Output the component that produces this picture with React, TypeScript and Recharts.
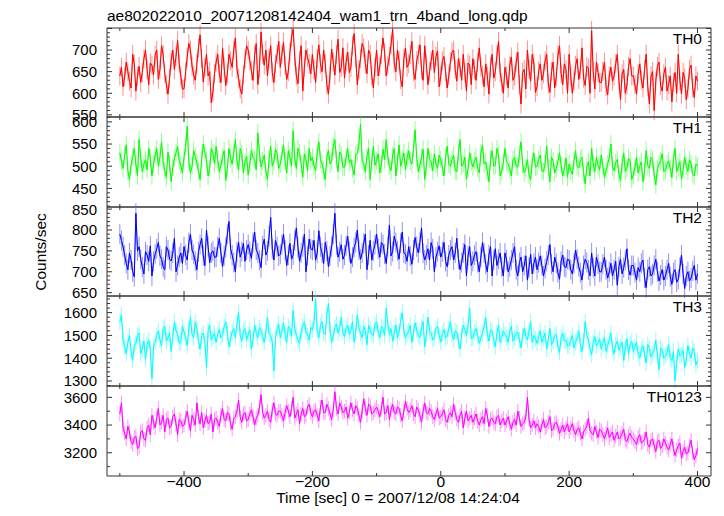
import { ErrorBar, Line, LineChart, XAxis, YAxis } from 'recharts'

// time bins (sec from 2007/12/08 14:24:04), 2.5 s apart
const times = Array.from({ length: 361 }, (_, i) => -500 + i * 2.5)

const th0 = [
  640, 660, 615, 638, 672, 650, 628, 612, 690, 668, 605, 640, 662, 625, 648, 680, 700, 655, 620, 670,
  665, 642, 688, 700, 632, 655, 710, 690, 645, 620, 598, 635, 676, 700, 655, 685, 722, 668, 640, 610,
  610, 650, 684, 715, 700, 662, 642, 630, 668, 705, 735, 680, 626, 660, 690, 640, 650, 578, 602, 645,
  672, 690, 645, 625, 705, 660, 618, 645, 690, 675, 660, 700, 728, 655, 635, 610, 598, 642, 680, 710,
  700, 675, 652, 630, 688, 715, 620, 658, 742, 690, 665, 700, 640, 680, 710, 648, 625, 668, 690, 720,
  660, 690, 718, 665, 632, 650, 695, 730, 748, 685, 640, 622, 676, 710, 605, 660, 700, 682, 668, 645,
  690, 655, 625, 680, 712, 668, 650, 700, 668, 620, 598, 645, 702, 672, 642, 690, 725, 648, 660, 705,
  635, 672, 695, 648, 660, 710, 738, 682, 620, 655, 680, 715, 705, 668, 645, 700, 690, 640, 612, 660,
  700, 640, 662, 690, 728, 695, 640, 665, 685, 712, 748, 670, 650, 700, 676, 632, 615, 680, 705, 660,
  668, 690, 720, 650, 632, 675, 690, 712, 655, 630, 710, 668, 620, 650, 675, 700, 648, 685, 698, 615,
  640, 675, 685, 650, 612, 640, 672, 695, 700, 655, 628, 680, 660, 630, 690, 648, 605, 670, 665, 620,
  680, 655, 630, 672, 705, 660, 642, 615, 668, 640, 598, 662, 690, 635, 650, 688, 720, 648, 625, 600,
  660, 640, 612, 665, 684, 630, 640, 672, 695, 620, 575, 648, 655, 610, 700, 655, 628, 690, 670, 602,
  615, 652, 668, 630, 645, 675, 690, 622, 602, 650, 672, 612, 638, 688, 710, 645, 620, 668, 655, 600,
  690, 640, 600, 628, 664, 680, 632, 655, 705, 635, 618, 662, 658, 600, 745, 650, 610, 672, 648, 625,
  625, 650, 672, 615, 596, 640, 660, 628, 640, 668, 690, 630, 585, 645, 655, 600, 618, 662, 680, 640,
  640, 620, 598, 645, 668, 630, 612, 655, 690, 615, 575, 640, 650, 560, 628, 662, 672, 618, 605, 645,
  660, 605, 620, 640, 580, 625, 648, 600, 690, 630, 598, 648, 635, 585, 610, 655, 665, 612, 590, 640, 628,
]

const th1 = [
  530, 512, 495, 525, 548, 490, 470, 502, 520, 540, 505, 478, 560, 520, 488, 505, 515, 492, 540, 518,
  478, 505, 525, 540, 500, 520, 555, 510, 490, 475, 532, 505, 465, 498, 518, 530, 545, 512, 502, 485,
  520, 545, 590, 510, 485, 500, 535, 522, 508, 490, 470, 515, 550, 530, 515, 478, 495, 540, 530, 505,
  545, 515, 488, 502, 520, 535, 468, 495, 540, 518, 505, 530, 560, 512, 492, 540, 528, 485, 510, 522,
  480, 505, 535, 520, 515, 492, 575, 530, 498, 512, 525, 488, 470, 515, 545, 500, 510, 538, 530, 495,
  505, 525, 548, 510, 485, 535, 520, 500, 580, 518, 495, 540, 530, 505, 475, 528, 515, 490, 540, 512,
  520, 500, 490, 530, 555, 515, 505, 490, 470, 520, 535, 505, 512, 545, 560, 515, 488, 532, 525, 498,
  498, 520, 540, 508, 515, 495, 480, 525, 530, 550, 595, 512, 505, 488, 522, 540, 470, 510, 545, 502,
  512, 528, 485, 505, 538, 515, 560, 520, 500, 490, 525, 540, 478, 510, 548, 500, 515, 530, 492, 518,
  535, 512, 505, 540, 582, 520, 488, 502, 520, 538, 470, 500, 540, 515, 510, 490, 528, 505, 495, 525,
  515, 498, 478, 520, 545, 505, 500, 515, 525, 490, 488, 530, 560, 500, 505, 520, 470, 495, 530, 510,
  498, 512, 520, 495, 485, 530, 548, 505, 510, 488, 465, 515, 535, 500, 502, 540, 525, 478, 490, 508,
  540, 510, 505, 492, 478, 515, 520, 500, 498, 528, 555, 505, 485, 495, 515, 480, 470, 512, 530, 498,
  500, 515, 525, 490, 488, 505, 545, 498, 465, 520, 512, 485, 495, 510, 530, 502, 478, 495, 518, 475,
  505, 490, 482, 512, 535, 500, 496, 515, 520, 485, 460, 498, 510, 478, 540, 505, 488, 520, 502, 492,
  525, 500, 475, 490, 505, 520, 550, 498, 490, 508, 515, 482, 468, 505, 530, 488, 495, 518, 512, 470,
  480, 498, 520, 485, 500, 510, 465, 490, 535, 502, 495, 520, 515, 480, 458, 495, 505, 512, 528, 488,
  490, 505, 512, 495, 475, 515, 540, 488, 498, 510, 470, 492, 520, 500, 488, 515, 505, 482, 478, 505, 500,
]

const th2 = [
  790, 775, 760, 740, 720, 705, 745, 728, 700, 688, 840, 750, 760, 730, 712, 695, 748, 740, 725, 762,
  690, 725, 742, 755, 770, 738, 730, 712, 705, 760, 752, 730, 726, 745, 780, 700, 715, 735, 745, 720,
  760, 740, 728, 770, 790, 752, 742, 725, 705, 748, 765, 780, 738, 715, 800, 760, 722, 745, 750, 735,
  735, 760, 780, 745, 712, 738, 758, 790, 820, 755, 740, 722, 700, 748, 770, 735, 748, 768, 725, 752,
  765, 748, 732, 770, 795, 752, 745, 728, 710, 762, 778, 740, 750, 785, 830, 755, 728, 775, 760, 738,
  742, 765, 790, 752, 715, 740, 768, 730, 740, 775, 805, 758, 725, 745, 760, 790, 700, 738, 778, 755,
  752, 775, 728, 745, 798, 760, 745, 720, 770, 750, 712, 738, 760, 790, 840, 765, 735, 748, 765, 730,
  740, 762, 785, 748, 720, 735, 758, 770, 800, 752, 730, 745, 768, 790, 705, 740, 775, 728, 750, 765,
  790, 755, 735, 770, 765, 742, 720, 760, 812, 738, 748, 785, 770, 750, 730, 768, 795, 745, 742, 725,
  760, 738, 718, 752, 782, 760, 745, 770, 805, 745, 728, 740, 755, 728, 770, 755, 700, 735, 748, 762,
  735, 748, 770, 725, 712, 740, 752, 760, 728, 745, 780, 730, 705, 722, 745, 765, 690, 738, 760, 715,
  725, 740, 748, 722, 700, 735, 770, 745, 718, 700, 740, 760, 690, 728, 755, 715, 730, 745, 712, 690,
  745, 728, 700, 712, 728, 745, 760, 705, 690, 722, 735, 700, 715, 738, 680, 710, 742, 695, 720, 735,
  705, 722, 738, 715, 690, 708, 725, 740, 765, 718, 700, 735, 720, 698, 682, 725, 740, 712, 710, 730,
  728, 705, 695, 720, 752, 730, 712, 698, 680, 715, 730, 722, 705, 690, 745, 710, 690, 735, 718, 700,
  700, 718, 735, 705, 685, 700, 720, 690, 705, 725, 668, 712, 730, 695, 710, 728, 755, 705, 692, 715,
  715, 698, 680, 710, 700, 720, 728, 685, 662, 705, 712, 690, 695, 715, 730, 700, 678, 692, 705, 680,
  690, 705, 720, 688, 670, 698, 705, 675, 682, 710, 740, 695, 660, 690, 700, 678, 685, 702, 715, 680, 695,
]

const th3 = [
  1560, 1590, 1480, 1450, 1420, 1470, 1500, 1430, 1390, 1455, 1465, 1500, 1510, 1420, 1440, 1475, 1395, 1460, 1480, 1440,
  1310, 1450, 1470, 1500, 1520, 1480, 1455, 1530, 1540, 1475, 1490, 1510, 1430, 1495, 1560, 1520, 1505, 1465, 1470, 1540,
  1515, 1490, 1455, 1530, 1580, 1505, 1490, 1560, 1530, 1475, 1440, 1500, 1510, 1470, 1360, 1520, 1545, 1480, 1495, 1510,
  1470, 1505, 1525, 1490, 1500, 1540, 1560, 1510, 1450, 1485, 1515, 1530, 1490, 1555, 1600, 1500, 1475, 1520, 1530, 1480,
  1505, 1525, 1440, 1480, 1545, 1510, 1490, 1535, 1520, 1495, 1470, 1515, 1580, 1505, 1500, 1470, 1345, 1490, 1525, 1550,
  1490, 1520, 1555, 1505, 1470, 1540, 1530, 1495, 1610, 1530, 1500, 1480, 1465, 1515, 1540, 1560, 1515, 1500, 1480, 1535,
  1525, 1560, 1660, 1520, 1490, 1545, 1560, 1510, 1505, 1590, 1640, 1525, 1470, 1500, 1535, 1550, 1510, 1530, 1580, 1515,
  1495, 1530, 1545, 1505, 1520, 1560, 1470, 1515, 1590, 1535, 1510, 1490, 1540, 1520, 1460, 1545, 1525, 1505, 1500, 1550,
  1560, 1515, 1490, 1540, 1530, 1500, 1620, 1550, 1505, 1530, 1475, 1510, 1545, 1490, 1515, 1565, 1600, 1520, 1490, 1505,
  1520, 1545, 1470, 1510, 1555, 1525, 1500, 1490, 1535, 1560, 1450, 1505, 1580, 1520, 1510, 1480, 1490, 1530, 1540, 1500,
  1470, 1510, 1525, 1490, 1495, 1530, 1560, 1505, 1480, 1520, 1515, 1475, 1440, 1500, 1545, 1525, 1500, 1540, 1620, 1485,
  1490, 1515, 1530, 1500, 1465, 1490, 1510, 1540, 1580, 1505, 1475, 1525, 1520, 1480, 1450, 1510, 1545, 1470, 1495, 1520,
  1505, 1490, 1470, 1520, 1540, 1475, 1490, 1510, 1515, 1480, 1445, 1500, 1530, 1495, 1480, 1520, 1560, 1470, 1500, 1485,
  1465, 1495, 1520, 1470, 1490, 1510, 1440, 1485, 1530, 1460, 1475, 1500, 1505, 1450, 1425, 1490, 1510, 1475, 1480, 1455,
  1455, 1480, 1500, 1445, 1470, 1490, 1520, 1460, 1430, 1475, 1560, 1500, 1480, 1440, 1415, 1470, 1495, 1455, 1465, 1485,
  1440, 1465, 1490, 1430, 1455, 1480, 1510, 1445, 1420, 1460, 1475, 1435, 1450, 1470, 1390, 1450, 1485, 1420, 1460, 1475,
  1430, 1450, 1470, 1420, 1400, 1440, 1455, 1415, 1380, 1460, 1445, 1405, 1420, 1435, 1480, 1410, 1350, 1445, 1435, 1400,
  1410, 1425, 1460, 1400, 1390, 1430, 1300, 1380, 1440, 1410, 1415, 1435, 1360, 1395, 1455, 1420, 1400, 1445, 1430, 1370, 1390,
]

const th0123 = [
  3480, 3560, 3380, 3340, 3300, 3390, 3350, 3280, 3260, 3310, 3320, 3230, 3240, 3350, 3360, 3300, 3290, 3380, 3400, 3330,
  3470, 3420, 3380, 3450, 3520, 3400, 3420, 3470, 3350, 3440, 3450, 3380, 3390, 3460, 3480, 3410, 3330, 3440, 3430, 3390,
  3400, 3450, 3500, 3420, 3360, 3470, 3440, 3400, 3560, 3460, 3410, 3490, 3380, 3430, 3470, 3410, 3420, 3480, 3350, 3440,
  3450, 3420, 3390, 3470, 3520, 3440, 3430, 3490, 3480, 3410, 3370, 3450, 3460, 3500, 3580, 3460, 3420, 3480, 3490, 3430,
  3440, 3480, 3510, 3460, 3400, 3450, 3470, 3530, 3620, 3490, 3450, 3470, 3500, 3440, 3420, 3510, 3560, 3480, 3470, 3500,
  3500, 3470, 3430, 3490, 3540, 3500, 3460, 3520, 3600, 3450, 3480, 3510, 3410, 3480, 3520, 3460, 3470, 3530, 3550, 3490,
  3460, 3500, 3510, 3470, 3430, 3530, 3580, 3490, 3490, 3550, 3520, 3480, 3440, 3510, 3640, 3520, 3480, 3560, 3530, 3490,
  3500, 3530, 3450, 3490, 3560, 3510, 3480, 3540, 3520, 3470, 3420, 3500, 3590, 3520, 3470, 3550, 3540, 3480, 3490, 3510,
  3530, 3500, 3460, 3520, 3600, 3480, 3490, 3540, 3440, 3510, 3550, 3490, 3480, 3530, 3520, 3470, 3430, 3500, 3570, 3520,
  3490, 3510, 3540, 3480, 3460, 3530, 3510, 3470, 3420, 3500, 3560, 3490, 3480, 3520, 3500, 3460, 3440, 3480, 3520, 3450,
  3460, 3480, 3510, 3440, 3420, 3470, 3490, 3460, 3550, 3490, 3440, 3420, 3470, 3500, 3380, 3450, 3500, 3430, 3450, 3470,
  3420, 3450, 3480, 3430, 3400, 3440, 3460, 3410, 3520, 3470, 3390, 3440, 3450, 3420, 3410, 3460, 3470, 3400, 3430, 3450,
  3400, 3430, 3460, 3410, 3370, 3420, 3440, 3400, 3500, 3450, 3390, 3410, 3420, 3460, 3600, 3440, 3380, 3400, 3430, 3380,
  3410, 3390, 3350, 3400, 3440, 3380, 3390, 3420, 3460, 3360, 3370, 3410, 3420, 3390, 3340, 3370, 3400, 3350, 3380, 3410,
  3350, 3380, 3410, 3360, 3330, 3370, 3380, 3340, 3300, 3350, 3370, 3390, 3450, 3360, 3340, 3330, 3390, 3350, 3310, 3370,
  3360, 3330, 3300, 3340, 3380, 3310, 3330, 3350, 3290, 3320, 3350, 3300, 3310, 3340, 3370, 3290, 3280, 3320, 3340, 3310,
  3300, 3280, 3260, 3310, 3330, 3270, 3280, 3300, 3350, 3260, 3240, 3290, 3300, 3250, 3210, 3280, 3290, 3230, 3250, 3300,
  3270, 3240, 3220, 3260, 3300, 3230, 3180, 3220, 3250, 3270, 3160, 3210, 3240, 3190, 3200, 3250, 3290, 3200, 3150, 3180, 3230,
]

const bandNames = ['TH0', 'TH1', 'TH2', 'TH3', 'TH0123']
const bandErrors = [22, 20, 24, 35, 52]
const yLabels = [
  [550, 600, 650, 700],
  [450, 500, 550, 600],
  [650, 700, 750, 800, 850],
  [1300, 1400, 1500, 1600],
  [3200, 3400, 3600],
]
const xLabels = [-400, -200, 0, 200, 400]
const xTicks = [-500, -400, -300, -200, -100, 0, 100, 200, 300, 400]

const panels = [
  { values: th0, color: '#ff0000', light: '#ff9090', domain: [545, 751], minor: 10, major: 50 },
  { values: th1, color: '#00ff00', light: '#90ff90', domain: [408, 611], minor: 10, major: 50 },
  { values: th2, color: '#0000ff', light: '#9090ff', domain: [642, 855], minor: 10, major: 50 },
  { values: th3, color: '#00ffff', light: '#90ffff', domain: [1278, 1673], minor: 20, major: 100 },
  { values: th0123, color: '#ff00ff', light: '#ff90ff', domain: [3032, 3682], minor: 100, major: 200 },
]

const tops = [28, 117, 207, 296, 386, 476]
const FONT = '"Liberation Sans", Arial, Helvetica, sans-serif'
const FRAME = '#333'
const W = 724

const isMajor = (v: number, step: number) => Math.abs(v % step) < 1e-6

function yTicksFor(domain: number[], step: number) {
  const out: number[] = []
  for (let v = Math.ceil(domain[0] / step) * step; v <= domain[1]; v += step) out.push(v)
  return out
}

function Panel({ k }: { k: number }) {
  const p = panels[k]
  const last = k === panels.length - 1
  const plotH = tops[k + 1] - tops[k]
  const bottomH = last ? 40 : 1
  const data = times.map((t, i) => ({ t, v: p.values[i], err: bandErrors[k] }))
  const labels = yLabels[k]

  const leftTick = (props: any) => {
    const v = props.payload.value
    const len = isMajor(v, p.major) ? 5 : 3
    return (
      <g>
        <line x1={props.x} x2={props.x + len} y1={props.y} y2={props.y} stroke={FRAME} />
        {labels.includes(v) && (
          <text x={props.x - 10} y={props.y} dy="0.36em" textAnchor="end" fontSize={15} fill="#000" fontFamily={FONT}>
            {v}
          </text>
        )}
      </g>
    )
  }
  const rightTick = (props: any) => {
    const v = props.payload.value
    const len = isMajor(v, p.major) ? 5 : 3
    return <line x1={props.x} x2={props.x - len} y1={props.y} y2={props.y} stroke={FRAME} />
  }
  const topTick = (props: any) => {
    const len = isMajor(props.payload.value, 200) ? 5 : 3
    return <line x1={props.x} x2={props.x} y1={props.y} y2={props.y + len} stroke={FRAME} />
  }
  const bottomTick = (props: any) => {
    const v = props.payload.value
    const len = isMajor(v, 200) ? 5 : 3
    return (
      <g>
        <line x1={props.x} x2={props.x} y1={props.y} y2={props.y - len} stroke={FRAME} />
        {last && xLabels.includes(v) && (
          <text x={props.x} y={props.y + 11} textAnchor="middle" fontSize={15.5} fill="#000" fontFamily={FONT}>
            {v < 0 ? `\u2212${-v}` : v}
          </text>
        )}
      </g>
    )
  }

  return (
    <div style={{ position: 'absolute', left: 0, top: tops[k] - 1 }}>
      <LineChart width={W} height={plotH + 1 + bottomH} data={data} margin={{ top: 0, right: 12, bottom: 0, left: 47 }}>
        <XAxis
          xAxisId="b"
          dataKey="t"
          type="number"
          domain={[-520, 421]}
          allowDataOverflow
          ticks={xTicks}
          interval={0}
          height={bottomH}
          tickSize={0}
          tickMargin={0}
          tick={bottomTick}
          tickLine={false}
          axisLine={{ stroke: FRAME }}
        />
        <XAxis
          xAxisId="t"
          orientation="top"
          dataKey="t"
          type="number"
          domain={[-520, 421]}
          allowDataOverflow
          ticks={xTicks}
          interval={0}
          height={1}
          tickSize={0}
          tickMargin={0}
          tick={topTick}
          tickLine={false}
          axisLine={{ stroke: FRAME }}
        />
        <YAxis
          yAxisId="l"
          type="number"
          domain={p.domain}
          allowDataOverflow
          ticks={yTicksFor(p.domain, p.minor)}
          interval={0}
          width={60}
          tickSize={0}
          tickMargin={0}
          tick={leftTick}
          tickLine={false}
          axisLine={{ stroke: FRAME }}
        />
        <YAxis
          yAxisId="r"
          orientation="right"
          type="number"
          domain={p.domain}
          allowDataOverflow
          ticks={yTicksFor(p.domain, p.minor)}
          interval={0}
          width={1}
          tickSize={0}
          tickMargin={0}
          tick={rightTick}
          tickLine={false}
          axisLine={{ stroke: FRAME }}
        />
        <Line
          xAxisId="b"
          yAxisId="l"
          dataKey="v"
          type="linear"
          stroke={p.light}
          strokeWidth={1}
          dot={false}
          isAnimationActive={false}
        >
          <ErrorBar dataKey="err" width={0} stroke={p.light} strokeWidth={1} direction="y" />
        </Line>
        <Line
          xAxisId="b"
          yAxisId="l"
          dataKey="v"
          type="linear"
          stroke={p.color}
          strokeWidth={1}
          dot={false}
          isAnimationActive={false}
        />
      </LineChart>
    </div>
  )
}

export default function App() {
  return (
    <div style={{ position: 'absolute', left: 0, top: 0, width: W, height: 516, background: '#fff', fontFamily: FONT }}>
      <style>{'.recharts-surface { overflow: visible; }'}</style>
      {panels.map((_, k) => (
        <Panel key={k} k={k} />
      ))}
      <svg width={W} height={516} style={{ position: 'absolute', left: 0, top: 0, pointerEvents: 'none' }}>
        <text x={107} y={21} fontSize={15.5} fontFamily={FONT} fill="#000">
          ae802022010_20071208142404_wam1_trn_4band_long.qdp
        </text>
        {bandNames.map((name, k) => (
          <text key={name} x={702} y={tops[k] + 16} textAnchor="end" fontSize={15.5} fontFamily={FONT} fill="#000">
            {name}
          </text>
        ))}
        <text
          x={0}
          y={0}
          transform="translate(46, 252) rotate(-90)"
          textAnchor="middle"
          fontSize={15.5}
          fontFamily={FONT}
          fill="#000"
        >
          Counts/sec
        </text>
        <text x={398} y={503} textAnchor="middle" fontSize={15.5} fontFamily={FONT} fill="#000">
          Time [sec] 0 = 2007/12/08 14:24:04
        </text>
      </svg>
    </div>
  )
}
